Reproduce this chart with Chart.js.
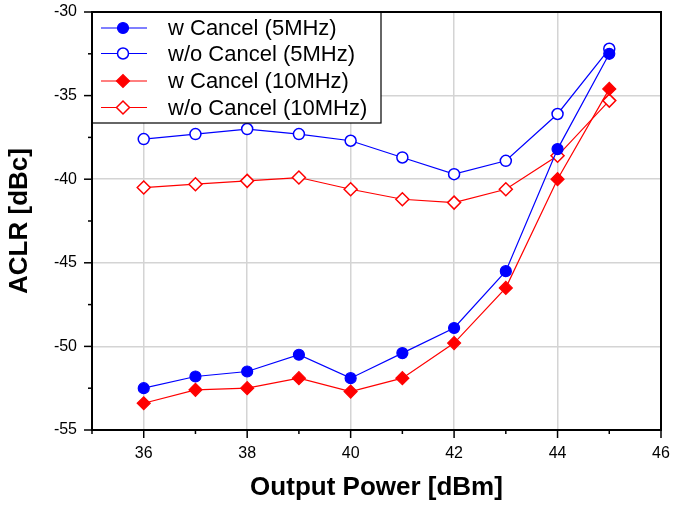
<!DOCTYPE html>
<html>
<head>
<meta charset="utf-8">
<script src="https://cdn.jsdelivr.net/npm/chart.js@4.4.1/dist/chart.umd.min.js"></script>
<style>
  html, body { margin: 0; padding: 0; background: #fff; }
  #wrap { width: 673px; height: 506px; }
</style>
</head>
<body>
<div id="wrap"><canvas id="aclr"></canvas></div>
<script>
const outputPower = [36, 37, 38, 39, 40, 41, 42, 43, 44, 45];
const wCancel5 = [-52.5, -51.8, -51.5, -50.5, -51.9, -50.4, -48.9, -45.5, -38.2, -32.5];
const woCancel5 = [-37.6, -37.3, -37.0, -37.3, -37.7, -38.7, -39.7, -38.9, -36.1, -32.2];
const wCancel10 = [-53.4, -52.6, -52.5, -51.9, -52.7, -51.9, -49.8, -46.5, -40.0, -34.6];
const woCancel10 = [-40.5, -40.3, -40.1, -39.9, -40.6, -41.2, -41.4, -40.6, -38.6, -35.3];
const xTicks = [36, 38, 40, 42, 44, 46];
const yTicks = [-55, -50, -45, -40, -35, -30];

const FONT = '"Liberation Sans", Arial, sans-serif';

function pts(ys) {
  return outputPower.map((x, i) => ({ x: x, y: ys[i] }));
}

// tick marks (major + minor) and top/right frame
const frame = {
  id: 'frame',
  afterDraw(chart) {
    const c = chart.ctx, a = chart.chartArea;
    const xs = chart.scales.x, ys = chart.scales.y;
    c.save();
    c.strokeStyle = '#000';
    c.lineWidth = 2;
    c.strokeRect(a.left, a.top, a.right - a.left, a.bottom - a.top);
    c.lineWidth = 1.5;
    for (let v = 35; v <= 46; v++) {
      const px = xs.getPixelForValue(v);
      const len = v % 2 === 0 ? 8 : 4;
      c.beginPath(); c.moveTo(px, a.bottom); c.lineTo(px, a.bottom + len); c.stroke();
    }
    for (let v = -55; v <= -30; v += 2.5) {
      const py = ys.getPixelForValue(v);
      const len = v % 5 === 0 ? 8 : 4;
      c.beginPath(); c.moveTo(a.left, py); c.lineTo(a.left - len, py); c.stroke();
    }
    c.restore();
  }
};

// boxed legend inside the plot, top left
const boxLegend = {
  id: 'boxLegend',
  afterDatasetsDraw(chart) {
    const c = chart.ctx, a = chart.chartArea;
    const x0 = a.left, y0 = a.top, w = 289, h = 111;
    c.save();
    c.fillStyle = '#fff';
    c.fillRect(x0, y0, w, h);
    c.strokeStyle = '#000';
    c.lineWidth = 1.2;
    c.strokeRect(x0, y0, w, h);
    const rows = [16, 41.5, 69, 95.5];
    chart.data.datasets.forEach((ds, i) => {
      const ry = y0 + rows[i], mx = x0 + 31;
      c.strokeStyle = ds.borderColor;
      c.lineWidth = ds.borderWidth;
      c.beginPath(); c.moveTo(x0 + 9, ry); c.lineTo(x0 + 55, ry); c.stroke();
      c.fillStyle = ds.pointBackgroundColor;
      c.strokeStyle = ds.pointBorderColor;
      c.lineWidth = ds.pointBorderWidth;
      c.beginPath();
      const r = ds.pointRadius;
      if (ds.pointStyle === 'circle') {
        c.arc(mx, ry, r, 0, Math.PI * 2);
      } else {
        c.moveTo(mx - r, ry); c.lineTo(mx, ry - r);
        c.lineTo(mx + r, ry); c.lineTo(mx, ry + r); c.closePath();
      }
      c.fill(); c.stroke();
      c.fillStyle = '#000';
      c.font = '22px ' + FONT;
      c.textBaseline = 'middle';
      c.fillText(ds.label, x0 + 76, ry + 1);
    });
    c.restore();
  }
};

new Chart(document.getElementById('aclr'), {
  type: 'line',
  data: {
    datasets: [
      {
        label: 'w Cancel (5MHz)', data: pts(wCancel5),
        borderColor: '#0000ff', borderWidth: 1.2,
        pointStyle: 'circle', pointRadius: 5.5, pointBorderWidth: 1.2,
        pointBackgroundColor: '#0000ff', pointBorderColor: '#0000ff'
      },
      {
        label: 'w/o Cancel (5MHz)', data: pts(woCancel5),
        borderColor: '#0000ff', borderWidth: 1.2,
        pointStyle: 'circle', pointRadius: 5.5, pointBorderWidth: 1.5,
        pointBackgroundColor: '#ffffff', pointBorderColor: '#0000ff'
      },
      {
        label: 'w Cancel (10MHz)', data: pts(wCancel10),
        borderColor: '#ff0000', borderWidth: 1.2,
        pointStyle: 'rectRot', pointRadius: 6.5, pointBorderWidth: 1.2,
        pointBackgroundColor: '#ff0000', pointBorderColor: '#ff0000'
      },
      {
        label: 'w/o Cancel (10MHz)', data: pts(woCancel10),
        borderColor: '#ff0000', borderWidth: 1.2,
        pointStyle: 'rectRot', pointRadius: 6.5, pointBorderWidth: 1.5,
        pointBackgroundColor: '#ffffff', pointBorderColor: '#ff0000'
      }
    ]
  },
  options: {
    responsive: true,
    maintainAspectRatio: false,
    animation: false,
    layout: { padding: { top: 12, right: 12, left: 0, bottom: 0 } },
    plugins: { legend: { display: false }, tooltip: { enabled: false } },
    scales: {
      x: {
        type: 'linear', min: 35, max: 46,
        afterBuildTicks: s => { s.ticks = xTicks.map(v => ({ value: v })); },
        afterFit: s => { s.height = 76; s.paddingLeft = 0; s.paddingRight = 0; },
        grid: { color: '#d4d4d4', lineWidth: 1.5, drawTicks: false },
        border: { color: '#000', width: 2 },
        ticks: { color: '#000', padding: 14, font: { family: FONT, size: 16 } },
        title: {
          display: true, text: 'Output Power [dBm]', color: '#000',
          font: { family: FONT, size: 26, weight: 'bold' }, padding: { top: 0, bottom: 3 }
        }
      },
      y: {
        type: 'linear', min: -55, max: -30,
        afterBuildTicks: s => { s.ticks = yTicks.map(v => ({ value: v })); },
        afterFit: s => { s.width = 92; s.paddingTop = 0; s.paddingBottom = 0; },
        grid: { color: '#d4d4d4', lineWidth: 1.5, drawTicks: false },
        border: { color: '#000', width: 2 },
        ticks: { color: '#000', padding: 15, font: { family: FONT, size: 16 } },
        title: {
          display: true, text: 'ACLR [dBc]', color: '#000',
          font: { family: FONT, size: 26, weight: 'bold' }, padding: { top: 4, bottom: 0 }
        }
      }
    }
  },
  plugins: [frame, boxLegend]
});
</script>
</body>
</html>
